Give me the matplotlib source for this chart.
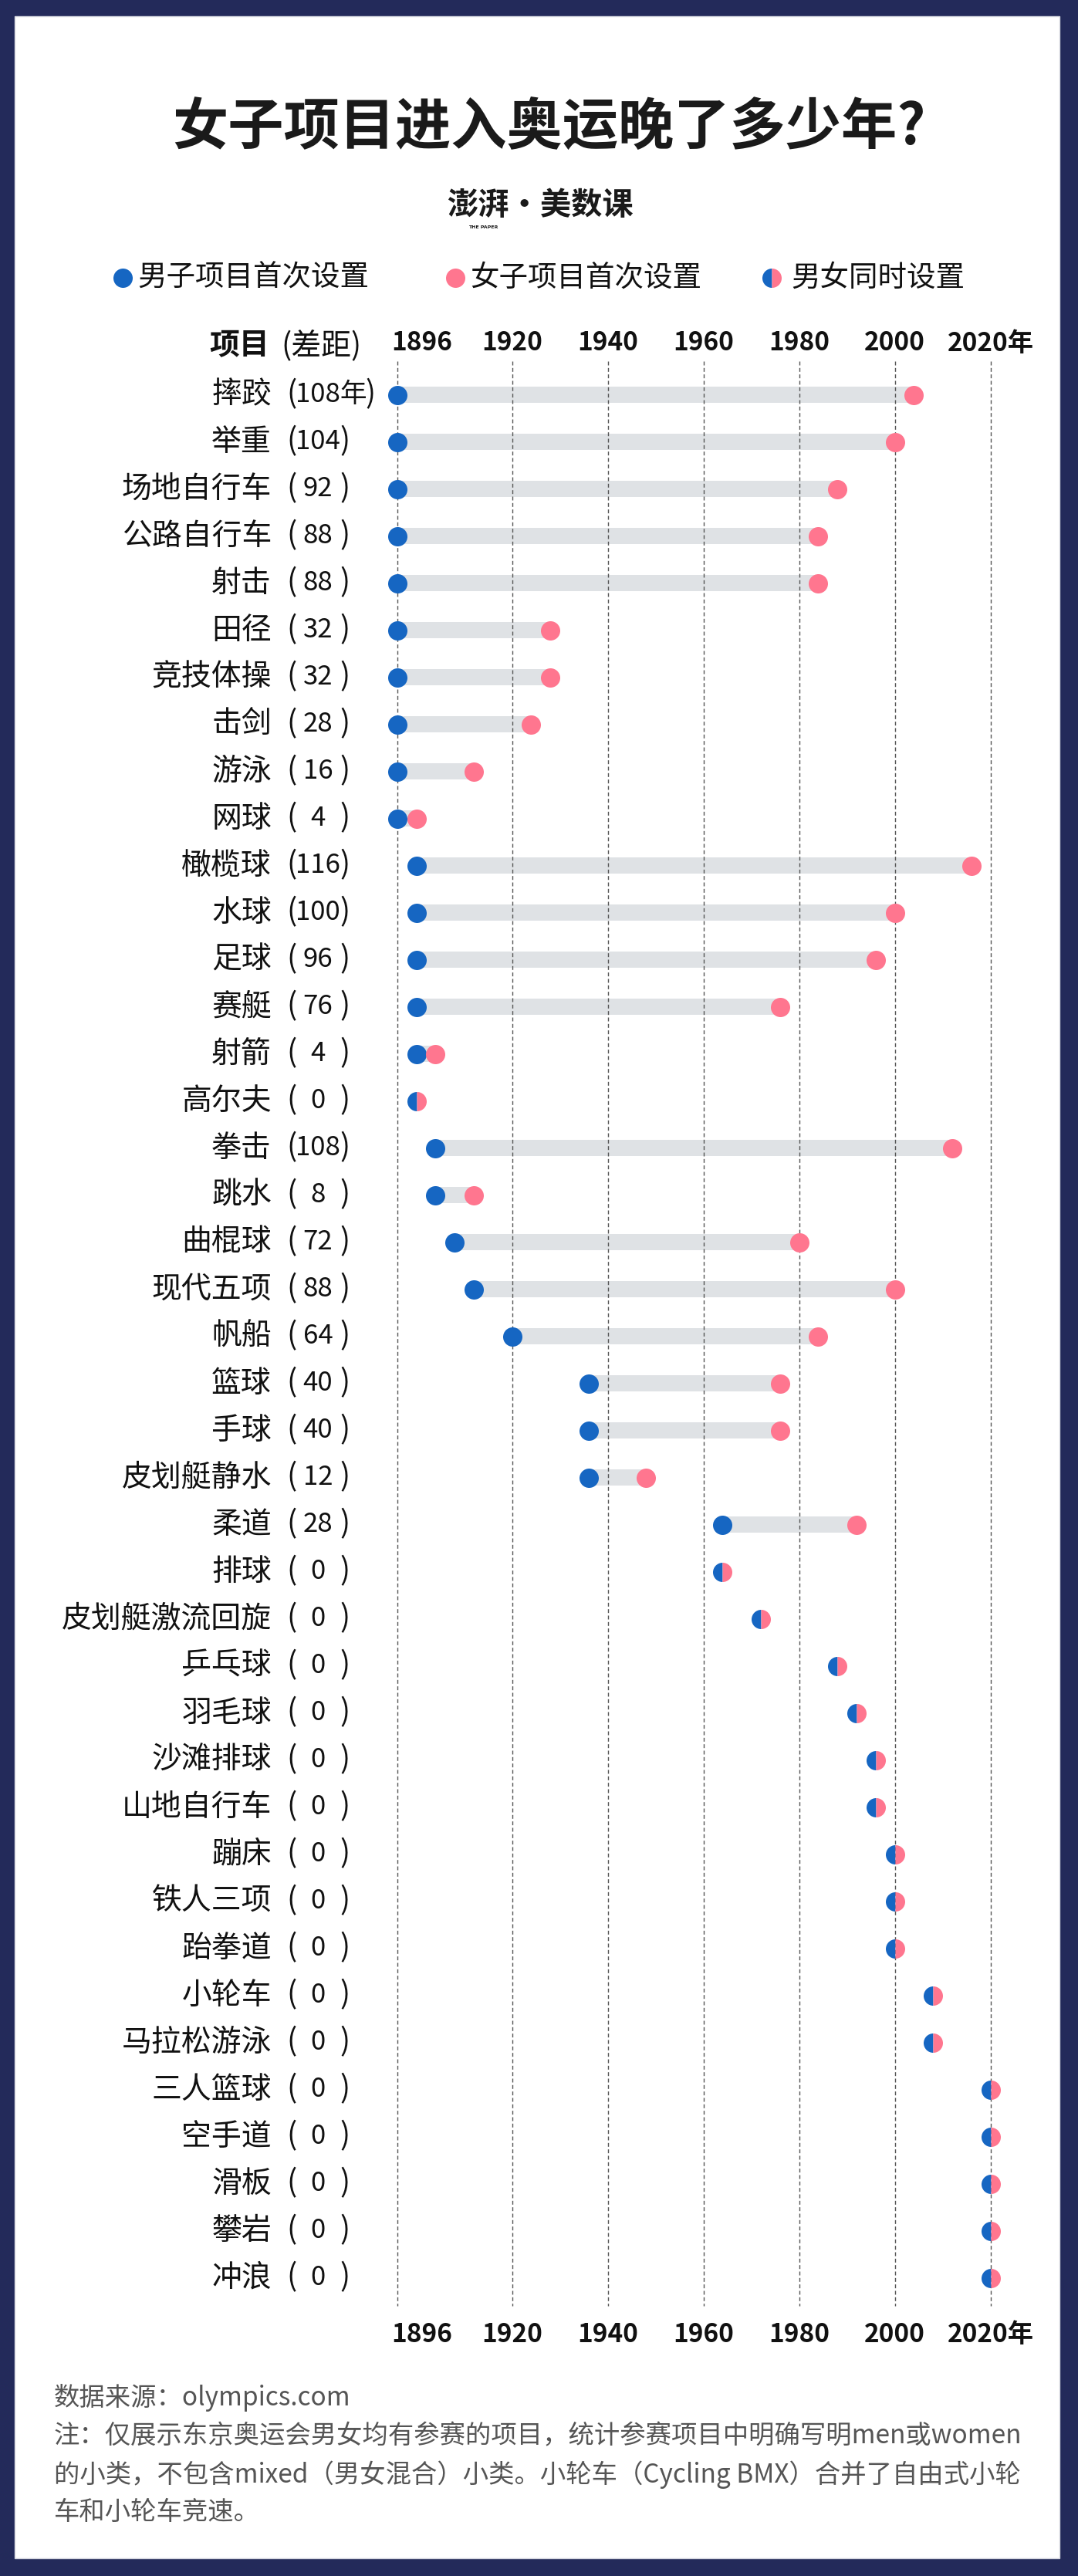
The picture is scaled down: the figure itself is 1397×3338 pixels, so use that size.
import numpy as np
import matplotlib.pyplot as plt
from matplotlib.lines import Line2D
from matplotlib.patches import Rectangle
from matplotlib import transforms, font_manager

# 女子项目进入奥运晚了多少年 -- dumbbell chart, men's first year vs women's first year

sports = ["摔跤", "举重", "场地自行车", "公路自行车", "射击", "田径", "竞技体操", "击剑",
          "游泳", "网球", "橄榄球", "水球", "足球", "赛艇", "射箭", "高尔夫", "拳击", "跳水",
          "曲棍球", "现代五项", "帆船", "篮球", "手球", "皮划艇静水", "柔道", "排球",
          "皮划艇激流回旋", "乒乓球", "羽毛球", "沙滩排球", "山地自行车", "蹦床", "铁人三项",
          "跆拳道", "小轮车", "马拉松游泳", "三人篮球", "空手道", "滑板", "攀岩", "冲浪"]
men_year = [1896, 1896, 1896, 1896, 1896, 1896, 1896, 1896, 1896, 1896,
            1900, 1900, 1900, 1900, 1900, 1900, 1904, 1904, 1908, 1912,
            1920, 1936, 1936, 1936, 1964, 1964, 1972, 1988, 1992, 1996,
            1996, 2000, 2000, 2000, 2008, 2008, 2020, 2020, 2020, 2020, 2020]
women_year = [2004, 2000, 1988, 1984, 1984, 1928, 1928, 1924, 1912, 1900,
              2016, 2000, 1996, 1976, 1904, 1900, 2012, 1912, 1980, 2000,
              1984, 1976, 1976, 1948, 1992, 1964, 1972, 1988, 1992, 1996,
              1996, 2000, 2000, 2000, 2008, 2008, 2020, 2020, 2020, 2020, 2020]
ticks = [1896, 1920, 1940, 1960, 1980, 2000, 2020]
tick_labels = ["1896", "1920", "1940", "1960", "1980", "2000", "2020年"]

title = "女子项目进入奥运晚了多少年?"
legend_labels = ["男子项目首次设置", "女子项目首次设置", "男女同时设置"]
notes = ["数据来源：olympics.com",
         "注：仅展示东京奥运会男女均有参赛的项目，统计参赛项目中明确写明men或women",
         "的小类，不包含mixed（男女混合）小类。小轮车（Cycling BMX）合并了自由式小轮",
         "车和小轮车竞速。"]

NAVY = "#232a5a"
BLUE = "#1666c2"
PINK = "#ff768f"
BAR = "#dfe2e5"
CJK = ["Noto Sans CJK SC", "DejaVu Sans"]

# narrow font for the digits, if one is installed
fonts = font_manager.fontManager.ttflist
if any(f.name == "Liberation Sans Narrow" for f in fonts):
    NARROW, STRETCH, TICK_FS = ["Liberation Sans Narrow", "Noto Sans CJK SC"], "normal", 30
else:
    NARROW, STRETCH, TICK_FS = ["Noto Sans CJK SC", "DejaVu Sans"], "normal", 24
plt.rcParams["font.family"] = CJK

W, H = 1397, 3338
fig = plt.figure(figsize=(W / 100, H / 100), dpi=100, facecolor=NAVY)


def fx(px):
    return px / W


def fy(py):
    return 1 - py / H


# white panel
fig.patches.append(Rectangle((fx(19), fy(3315)), fx(1373) - fx(19), fy(21) - fy(3315),
                             transform=fig.transFigure, facecolor="white",
                             edgecolor="#d3d5de", linewidth=1, zorder=-5))

# axes over the whole figure: x in years, y in row index
ax = fig.add_axes([0, 0, 1, 1])
ax.set_axis_off()
ax.patch.set_alpha(0)
px_per_year = (1283.6 - 514.7) / (2020 - 1896)
ax.set_xlim(1896 - 514.7 / px_per_year, 2020 + (W - 1283.6) / px_per_year)
row0, step = 511.7, 61.0
ax.set_ylim((H - row0) / step, -row0 / step)

n = len(sports)
y = np.arange(n)
men = np.array(men_year)
women = np.array(women_year)
gap = women - men

# grey bars between the two years
ax.barh(y, women - men, left=men, height=0.345, color=BAR, zorder=1)

# dashed grid
ax.vlines(ticks, -0.72, n - 0.4, colors="#555555", linewidth=1.0,
          linestyles=(0, (3.6, 2.4)), zorder=2)

same = gap == 0
diff = ~same
ax.plot(men[diff], y[diff], "o", color=BLUE, markersize=18, markeredgewidth=0, zorder=3)
ax.plot(women[diff], y[diff], "o", color=PINK, markersize=18, markeredgewidth=0, zorder=3)
ax.plot(men[same], y[same], "o", fillstyle="left", markerfacecolor=BLUE,
        markerfacecoloralt=PINK, markersize=18, markeredgewidth=0, zorder=3)

# year labels top and bottom
for i, (t, lab) in enumerate(zip(ticks, tick_labels)):
    ha = "left" if i == 0 else "center"
    tr = transforms.offset_copy(ax.transData, fig=fig, x=-7 if i == 0 else 0, y=0, units="dots")
    for yy in [(445 - row0) / step, (3025 - row0) / step]:
        ax.text(t, yy, lab, ha=ha, va="center", fontsize=TICK_FS, fontweight="bold",
                family=NARROW, fontstretch=STRETCH, color="#111111", transform=tr)

# row labels
lab_tr = transforms.blended_transform_factory(fig.transFigure, ax.transData)
par_kw = dict(va="center", fontsize=28, family=NARROW, color="#111111", transform=lab_tr)
num_kw = dict(par_kw, fontsize=25)
for i in range(n):
    ax.text(fx(352), i, sports[i], ha="right", va="center", fontsize=28,
            color="#111111", transform=lab_tr)
    ax.text(fx(371), i, "(", ha="left", **par_kw)
    if i == 0:
        ax.text(fx(383), i, f"{gap[i]}年", ha="left", **num_kw)
        ax.text(fx(487), i, ")", ha="right", **par_kw)
    else:
        ax.text(fx(412), i, str(gap[i]), ha="center", **num_kw)
        ax.text(fx(454), i, ")", ha="right", **par_kw)

# header
fig.text(fx(349), fy(448), "项目", ha="right", va="center", fontsize=28,
         fontweight="bold", color="#111111")
fig.text(fx(364), fy(448), "(差距)", ha="left", va="center", fontsize=28,
         family=NARROW, color="#111111")

# title and logo
fig.text(fx(223), fy(167), title, ha="left", va="center", fontsize=52,
         fontweight="bold", color="#1a1a1a")
fig.text(fx(700), fy(266), "澎湃·美数课", ha="center", va="center", fontsize=29,
         fontweight="bold", color="#1a1a1a")
fig.text(fx(626), fy(294), "THE PAPER", ha="center", va="center", fontsize=4.5,
         fontweight="bold", color="#1a1a1a", family="DejaVu Sans")

# legend
leg_y = fy(360)
for mx, tx, lab, kind in [(159, 178, legend_labels[0], "m"),
                          (590, 609, legend_labels[1], "w"),
                          (1000, 1025, legend_labels[2], "b")]:
    if kind == "b":
        mk = Line2D([fx(mx)], [leg_y], marker="o", fillstyle="left", markerfacecolor=BLUE,
                    markerfacecoloralt=PINK, markersize=18, markeredgewidth=0,
                    linestyle="none", transform=fig.transFigure)
    else:
        mk = Line2D([fx(mx)], [leg_y], marker="o", color=BLUE if kind == "m" else PINK,
                    markersize=18, markeredgewidth=0, linestyle="none",
                    transform=fig.transFigure)
    fig.add_artist(mk)
    fig.text(fx(tx), leg_y, lab, ha="left", va="center", fontsize=27, color="#111111")

# footnote
for line, py in zip(notes, [3107, 3157, 3207, 3255]):
    fig.text(fx(70), fy(py), line, ha="left", va="center", fontsize=24,
             family=NARROW, color="#555555")

fig.savefig("out.png", dpi=100, facecolor=NAVY)
